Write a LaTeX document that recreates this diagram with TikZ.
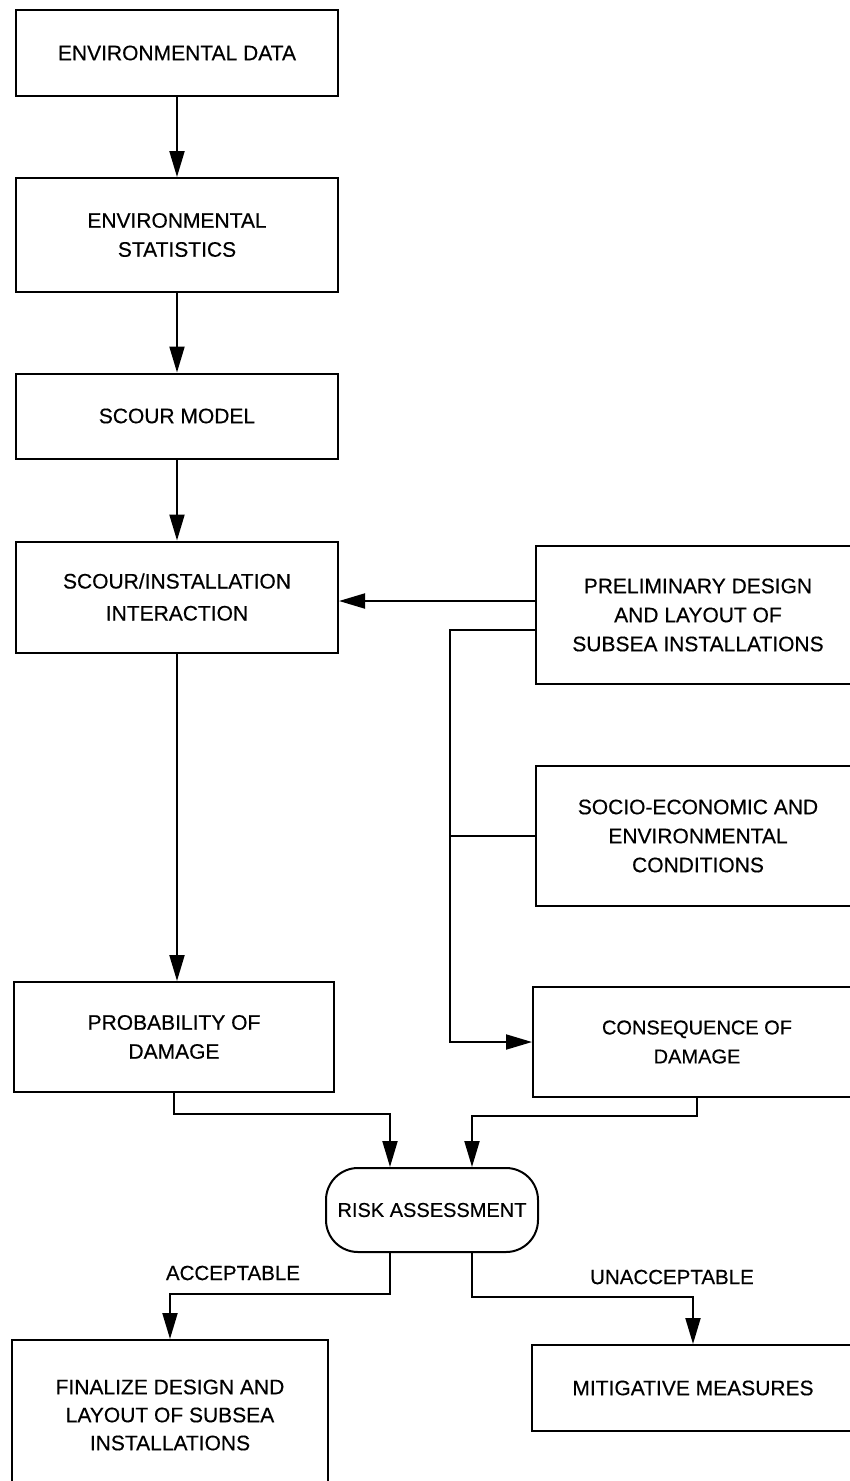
\documentclass[tikz,border=0pt]{standalone}
\usepackage{fontspec}
\setmainfont{Liberation Sans}[FakeBold=0.4]
\usetikzlibrary{arrows.meta}
\begin{document}
\begin{tikzpicture}[x=1pt,y=-1pt,
  box/.style={draw, line width=2pt, align=center, inner sep=0pt,
    font=\fontsize{21}{29}\selectfont},
  small/.style={font=\fontsize{20}{29}\selectfont},
  arr/.style={line width=2pt, -{Triangle[length=26pt,width=15pt]}},
  ln/.style={line width=2pt},
  lbl/.style={font=\fontsize{20.5}{29}\selectfont}]
\useasboundingbox (0,0) rectangle (850,1481);
% left column
\node[box, minimum width=322pt, minimum height=86pt] (envdata) at (177,53) {ENVIRONMENTAL DATA};
\node[box, minimum width=322pt, minimum height=114pt] (envstat) at (177,235) {ENVIRONMENTAL\\STATISTICS};
\node[box, minimum width=322pt, minimum height=85pt] (scourmodel) at (177,416) {SCOUR MODEL};
\node[box, minimum width=322pt, minimum height=111pt, font=\fontsize{21}{32}\selectfont] (scourinst) at (177,597) {SCOUR/INSTALLATION\\INTERACTION};
\node[box, minimum width=320pt, minimum height=110pt] (prob) at (174,1037) {PROBABILITY OF\\DAMAGE};
% right column
\node[box, minimum width=324pt, minimum height=138pt] (prelim) at (698,615) {PRELIMINARY DESIGN\\AND LAYOUT OF\\SUBSEA INSTALLATIONS};
\node[box, minimum width=324pt, minimum height=140pt] (socio) at (698,836) {SOCIO-ECONOMIC AND\\ENVIRONMENTAL\\CONDITIONS};
\node[box, small, minimum width=328pt, minimum height=110pt] (conseq) at (697,1042) {CONSEQUENCE OF\\DAMAGE};
% bottom
\node[box, small, rounded corners=32pt, minimum width=212pt, minimum height=84pt] (risk) at (432,1210) {RISK ASSESSMENT};
\node[box, minimum width=316pt, minimum height=150pt, font=\fontsize{21}{28}\selectfont] (finalize) at (170,1415) {FINALIZE DESIGN AND\\LAYOUT OF SUBSEA\\INSTALLATIONS};
\node[box, minimum width=322pt, minimum height=86pt] (mitig) at (693,1388) {MITIGATIVE MEASURES};
\node[lbl] (acc) at (233,1273) {ACCEPTABLE};
\node[lbl] (unacc) at (672,1277) {UNACCEPTABLE};
% connectors
\draw[arr] (envdata) -- (envstat);
\draw[arr] (envstat) -- (scourmodel);
\draw[arr] (scourmodel) -- (scourinst);
\draw[arr] (scourinst) -- (prob.north -| scourinst.south);
\coordinate (p1) at ([yshift=14pt]prelim.west);
\draw[arr] (p1) -- (p1 -| scourinst.east);
\coordinate (p2) at ([yshift=-15pt]prelim.west);
\coordinate (bx) at (450,0);
\draw[arr] (p2) -- (p2 -| bx) |- (conseq.west);
\draw[ln] (socio.west) -- (socio.west -| bx);
\coordinate (r1) at ([xshift=-42pt]risk.north);
\coordinate (r2) at ([xshift=40pt]risk.north);
\coordinate (r3) at ([xshift=-42pt]risk.south);
\coordinate (r4) at ([xshift=40pt]risk.south);
\draw[arr] (prob.south) -- ++(0,21) -| (r1);
\draw[arr] (conseq.south) -- ++(0,18) -| (r2);
\draw[arr] (r3) -- ++(0,41) -| (finalize.north);
\draw[arr] (r4) -- ++(0,44) -| (mitig.north);
\end{tikzpicture}
\end{document}
